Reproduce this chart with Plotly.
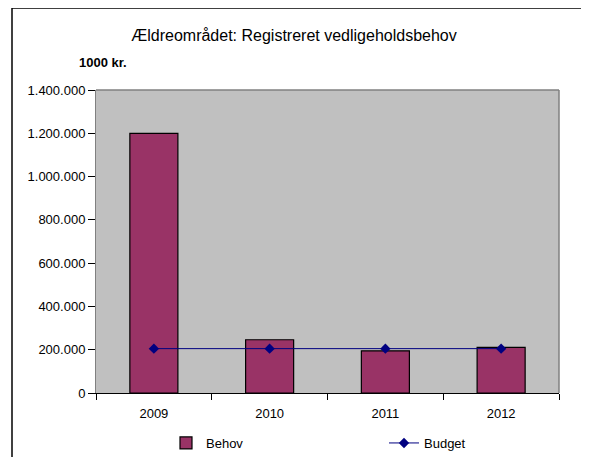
import plotly.graph_objects as go

years = ["2009", "2010", "2011", "2012"]
behov = [1200000, 246000, 195000, 211000]
budget = [205000, 205000, 205000, 205000]
y_ticks = [0, 200000, 400000, 600000, 800000, 1000000, 1200000, 1400000]

OFF = 8  # browser body margin
W, H = 589 - OFF, 457 - OFF
L, R, T, B = 96 - OFF, 559 - OFF, 90 - OFF, 393 - OFF
pw, ph = R - L, B - T


def px(x):
    return (x - OFF - L) / pw


def py(y):
    return (B - (y - OFF)) / ph


fig = go.Figure()
fig.add_trace(go.Bar(
    x=years, y=behov, name="Behov", legend="legend",
    marker=dict(color="#993366", line=dict(color="#000000", width=1.2)),
))
fig.add_trace(go.Scatter(
    x=years, y=budget, name="Budget", mode="lines+markers", legend="legend2",
    line=dict(color="#000080", width=1),
    marker=dict(symbol="diamond", size=8, color="#000080"),
))

leg_common = dict(
    orientation="h", xanchor="left", yanchor="middle",
    font=dict(size=13), bgcolor="rgba(0,0,0,0)",
)

fig.update_layout(
    width=W, height=H,
    margin=dict(l=L, r=W - R, t=T, b=H - B, pad=0, autoexpand=False),
    paper_bgcolor="white",
    plot_bgcolor="#C0C0C0",
    separators=",.",
    bargap=0.585,
    font=dict(family="Liberation Sans, Arial, sans-serif", size=13, color="#000000"),
    title=dict(
        text="Ældreområdet: Registreret vedligeholdsbehov",
        x=(294 - OFF) / W, xanchor="center",
        y=1 - (35 - OFF) / H, yanchor="middle", yref="container",
        font=dict(size=16, color="#000000"),
    ),
    showlegend=True,
    legend=dict(x=px(166), y=py(443), **leg_common),
    legend2=dict(x=px(384), y=py(443), **leg_common),
    xaxis=dict(
        showgrid=False, showline=True, linecolor="#000000", linewidth=1,
        ticks="outside", tickson="boundaries", ticklen=6, tickcolor="#000000",
        tickfont=dict(size=13), mirror=False, ticklabelstandoff=8,
    ),
    yaxis=dict(
        range=[0, 1400000], tickvals=y_ticks, tickformat=",d",
        showgrid=False, showline=True, linecolor="#808080", linewidth=1,
        ticks="outside", ticklen=7, tickcolor="#000000",
        tickfont=dict(size=13), zeroline=False,
    ),
    annotations=[dict(
        text="<b>1000 kr.</b>", xref="paper", yref="paper",
        x=px(103), y=py(62), xanchor="center", yanchor="middle",
        showarrow=False, font=dict(size=13),
    )],
    shapes=[
        dict(type="line", xref="paper", yref="paper", x0=0, x1=1, y0=1, y1=1,
             line=dict(color="#808080", width=1.5)),
        dict(type="line", xref="paper", yref="paper", x0=1, x1=1, y0=0, y1=1,
             line=dict(color="#808080", width=1.5)),
        dict(type="line", xref="paper", yref="paper",
             x0=px(12), x1=px(12), y0=py(8), y1=py(470),
             line=dict(color="#000000", width=1.5)),
        dict(type="line", xref="paper", yref="paper",
             x0=px(12), x1=px(600), y0=py(8), y1=py(8),
             line=dict(color="#000000", width=1.5)),
    ],
)

fig.write_html("out.html")
